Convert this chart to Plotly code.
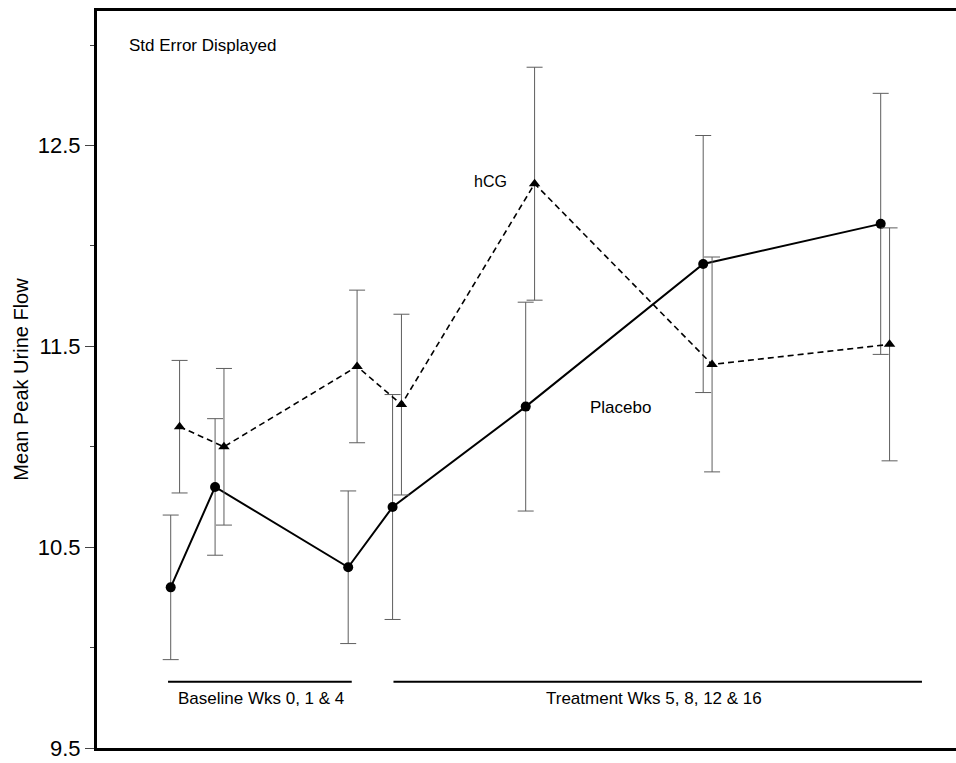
import plotly.graph_objects as go

# Study weeks (baseline 0, 1, 4; treatment 5, 8, 12, 16)
weeks = [0, 1, 4, 5, 8, 12, 16]
hcg_offset = 0.2  # small horizontal shift so the two groups' error bars don't overlap

placebo_mean = [10.30, 10.80, 10.40, 10.70, 11.20, 11.91, 12.11]
placebo_se = [0.36, 0.34, 0.38, 0.56, 0.52, 0.64, 0.65]

hcg_mean = [11.10, 11.00, 11.40, 11.21, 12.31, 11.41, 11.51]
hcg_se = [0.33, 0.39, 0.38, 0.45, 0.58, 0.535, 0.58]

y_ticks = [9.5, 10.5, 11.5, 12.5]

FONT = "Liberation Sans, Arial, sans-serif"
ERR_COLOR = "#5e5e5e"

fig = go.Figure()

fig.add_trace(go.Scatter(
    x=weeks, y=placebo_mean, mode="lines+markers", name="Placebo",
    line=dict(color="black", width=2),
    marker=dict(symbol="circle", size=10, color="black"),
    error_y=dict(type="data", array=placebo_se, visible=True,
                 color=ERR_COLOR, thickness=1, width=8),
))

fig.add_trace(go.Scatter(
    x=[w + hcg_offset for w in weeks], y=hcg_mean, mode="lines+markers", name="hCG",
    line=dict(color="black", width=1.6, dash="6px,4px"),
    marker=dict(symbol="triangle-up", size=10, color="black"),
    error_y=dict(type="data", array=hcg_se, visible=True,
                 color=ERR_COLOR, thickness=1, width=8),
))

# Period bars under the curves
fig.add_shape(type="line", x0=-0.06, x1=4.08, y0=9.83, y1=9.83,
              line=dict(color="black", width=2))
fig.add_shape(type="line", x0=5.02, x1=16.93, y0=9.83, y1=9.83,
              line=dict(color="black", width=2))

def label(text, x, y, size=17):
    fig.add_annotation(x=x, y=y, text=text, showarrow=False,
                       font=dict(family=FONT, size=size, color="black"),
                       xanchor="center", yanchor="middle")

label("Baseline Wks 0, 1 &amp; 4", 2.04, 9.745)
label("Treatment Wks 5, 8, 12 &amp; 16", 10.88, 9.745)
label("Std Error Displayed", 0.72, 13.0)
label("hCG", 7.2, 12.32, size=16)
label("Placebo", 10.13, 11.195)

fig.update_layout(
    width=956, height=763,
    margin=dict(l=97, r=0, t=11, b=15),
    paper_bgcolor="white", plot_bgcolor="white",
    showlegend=False,
    font=dict(family=FONT, color="black"),
    xaxis=dict(
        range=[-1.661, 17.697], showgrid=False, zeroline=False,
        showticklabels=False, ticks="",
        showline=True, linecolor="black", linewidth=3, mirror=True,
    ),
    yaxis=dict(
        range=[9.5, 13.17], showgrid=False, zeroline=False,
        tickmode="array", tickvals=y_ticks, ticktext=[str(v) for v in y_ticks],
        ticks="outside", ticklen=9, tickwidth=1, tickcolor="#444",
        tickfont=dict(family=FONT, size=22, color="black"),
        minor=dict(tickvals=[10, 11, 12, 13], ticks="outside", ticklen=4,
                   tickwidth=1, tickcolor="#444"),
        showline=True, linecolor="black", linewidth=3,
        title=dict(text="Mean Peak Urine Flow",
                   font=dict(family=FONT, size=20, color="black"), standoff=4),
    ),
)

fig.write_html("out.html")
